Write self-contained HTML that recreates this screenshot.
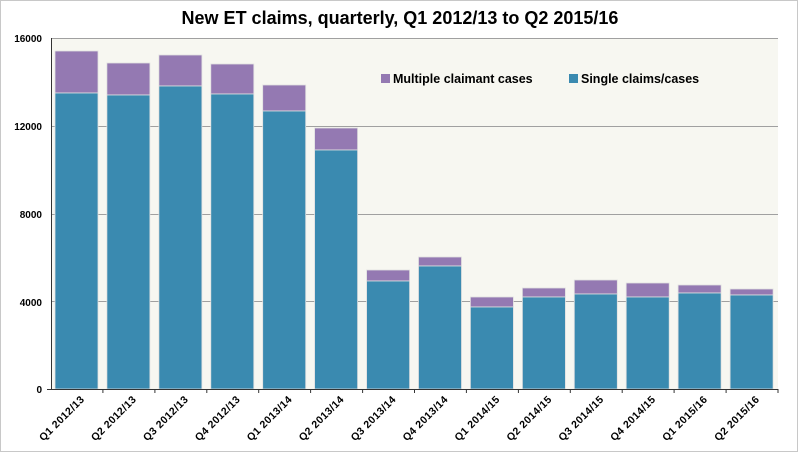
<!DOCTYPE html><html><head><style>body{margin:0;background:#fff}svg{display:block;font-family:"Liberation Sans",Verdana,sans-serif}</style></head><body>
<svg width="799" height="453" xmlns="http://www.w3.org/2000/svg">
<rect x="0.5" y="0.5" width="797" height="451" fill="#fff" stroke="#c8c8c8"/>
<text x="400" y="24" text-anchor="middle" font-size="18" font-weight="bold">New ET claims, quarterly, Q1 2012/13 to Q2 2015/16</text>
<rect x="51" y="38" width="727" height="351" fill="#f7f7f1"/>
<g stroke="#a0a0a0" stroke-width="1"><line x1="51" y1="38.5" x2="778" y2="38.5"/><line x1="51" y1="126.5" x2="778" y2="126.5"/><line x1="51" y1="214.5" x2="778" y2="214.5"/><line x1="51" y1="301.5" x2="778" y2="301.5"/></g>
<g font-size="10" font-weight="bold" text-anchor="end"><text x="42" y="42">16000</text><text x="42" y="130">12000</text><text x="42" y="218">8000</text><text x="42" y="306">4000</text><text x="42" y="393">0</text></g>
<g fill="#9479b2" stroke="#e0e0e0" stroke-width="0.8">
<rect x="55.0" y="51" width="43" height="42"/>
<rect x="106.9" y="63" width="43" height="32"/>
<rect x="158.9" y="55" width="43" height="31"/>
<rect x="210.8" y="64" width="43" height="30"/>
<rect x="262.7" y="85" width="43" height="26"/>
<rect x="314.6" y="128" width="43" height="22"/>
<rect x="366.6" y="270" width="43" height="11"/>
<rect x="418.5" y="257" width="43" height="9"/>
<rect x="470.4" y="297" width="43" height="10"/>
<rect x="522.4" y="288" width="43" height="9"/>
<rect x="574.3" y="280" width="43" height="14"/>
<rect x="626.2" y="283" width="43" height="14"/>
<rect x="678.1" y="285" width="43" height="8"/>
<rect x="730.1" y="289" width="43" height="6"/>
</g>
<g fill="#3a8ab0" stroke="#e0e0e0" stroke-width="0.8">
<rect x="55.0" y="93" width="43" height="296"/>
<rect x="106.9" y="95" width="43" height="294"/>
<rect x="158.9" y="86" width="43" height="303"/>
<rect x="210.8" y="94" width="43" height="295"/>
<rect x="262.7" y="111" width="43" height="278"/>
<rect x="314.6" y="150" width="43" height="239"/>
<rect x="366.6" y="281" width="43" height="108"/>
<rect x="418.5" y="266" width="43" height="123"/>
<rect x="470.4" y="307" width="43" height="82"/>
<rect x="522.4" y="297" width="43" height="92"/>
<rect x="574.3" y="294" width="43" height="95"/>
<rect x="626.2" y="297" width="43" height="92"/>
<rect x="678.1" y="293" width="43" height="96"/>
<rect x="730.1" y="295" width="43" height="94"/>
</g>
<line x1="51.5" y1="38" x2="51.5" y2="390" stroke="#333"/>
<line x1="47" y1="389.5" x2="778" y2="389.5" stroke="#333"/>
<g stroke="#333">
<line x1="102.9" y1="389" x2="102.9" y2="393"/><line x1="154.9" y1="389" x2="154.9" y2="393"/><line x1="206.8" y1="389" x2="206.8" y2="393"/><line x1="258.7" y1="389" x2="258.7" y2="393"/><line x1="310.6" y1="389" x2="310.6" y2="393"/><line x1="362.6" y1="389" x2="362.6" y2="393"/><line x1="414.5" y1="389" x2="414.5" y2="393"/><line x1="466.4" y1="389" x2="466.4" y2="393"/><line x1="518.4" y1="389" x2="518.4" y2="393"/><line x1="570.3" y1="389" x2="570.3" y2="393"/><line x1="622.2" y1="389" x2="622.2" y2="393"/><line x1="674.1" y1="389" x2="674.1" y2="393"/><line x1="726.1" y1="389" x2="726.1" y2="393"/><line x1="778" y1="389" x2="778" y2="393"/>
</g>
<g font-size="10.5" font-weight="bold" text-anchor="end" letter-spacing="0.4">
<text transform="translate(85.0,400) rotate(-45)">Q1 2012/13</text>
<text transform="translate(136.9,400) rotate(-45)">Q2 2012/13</text>
<text transform="translate(188.9,400) rotate(-45)">Q3 2012/13</text>
<text transform="translate(240.8,400) rotate(-45)">Q4 2012/13</text>
<text transform="translate(292.7,400) rotate(-45)">Q1 2013/14</text>
<text transform="translate(344.6,400) rotate(-45)">Q2 2013/14</text>
<text transform="translate(396.6,400) rotate(-45)">Q3 2013/14</text>
<text transform="translate(448.5,400) rotate(-45)">Q4 2013/14</text>
<text transform="translate(500.4,400) rotate(-45)">Q1 2014/15</text>
<text transform="translate(552.4,400) rotate(-45)">Q2 2014/15</text>
<text transform="translate(604.3,400) rotate(-45)">Q3 2014/15</text>
<text transform="translate(656.2,400) rotate(-45)">Q4 2014/15</text>
<text transform="translate(708.1,400) rotate(-45)">Q1 2015/16</text>
<text transform="translate(760.1,400) rotate(-45)">Q2 2015/16</text>
</g>
<rect x="381" y="74" width="9" height="9" fill="#9479b2"/><text x="393" y="83" font-size="12.5" font-weight="bold">Multiple claimant cases</text>
<rect x="569" y="74" width="9" height="9" fill="#3a8ab0"/><text x="581" y="83" font-size="12.5" font-weight="bold">Single claims/cases</text>
</svg></body></html>
